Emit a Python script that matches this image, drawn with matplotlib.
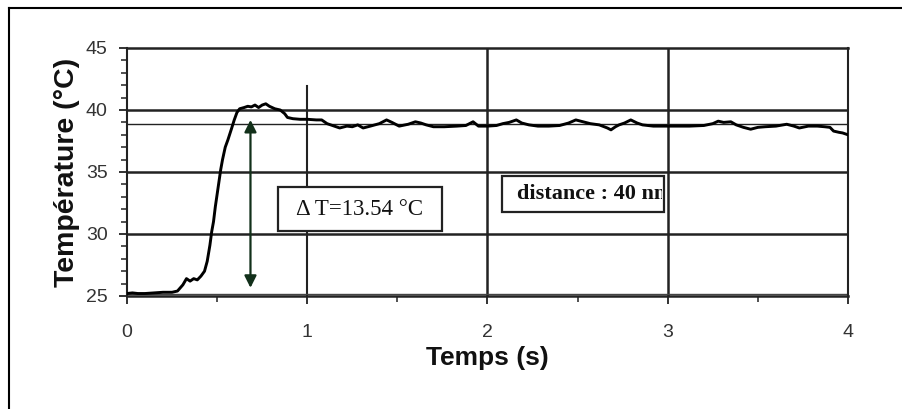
import matplotlib
matplotlib.use("Agg")
import matplotlib.pyplot as plt
from matplotlib.lines import Line2D
from matplotlib.patches import Rectangle
from matplotlib.ticker import MultipleLocator
from matplotlib.transforms import Bbox, TransformedBbox

# Temperature trace (time in s, temperature in °C)
time_s = [0.00, 0.03, 0.06, 0.10, 0.15, 0.20, 0.25, 0.28, 0.31, 0.33, 0.35, 0.37,
          0.39, 0.41, 0.43, 0.445, 0.46, 0.47, 0.48, 0.49, 0.50, 0.51, 0.52, 0.53,
          0.545, 0.56, 0.58, 0.595, 0.61, 0.625, 0.65, 0.67, 0.69, 0.71, 0.73, 0.75,
          0.77, 0.79, 0.82, 0.85, 0.875, 0.89, 0.92, 0.96, 1.00, 1.05, 1.08, 1.11,
          1.15, 1.18, 1.22, 1.25, 1.28, 1.31, 1.35, 1.40, 1.44, 1.47, 1.51, 1.56,
          1.60, 1.63, 1.66, 1.70, 1.76, 1.83, 1.88, 1.92, 1.95, 2.00, 2.05, 2.085,
          2.12, 2.16, 2.19, 2.23, 2.28, 2.34, 2.40, 2.45, 2.49, 2.53, 2.57, 2.62,
          2.665, 2.685, 2.71, 2.73, 2.76, 2.795, 2.83, 2.86, 2.92, 2.97, 3.05, 3.12,
          3.20, 3.25, 3.28, 3.31, 3.35, 3.38, 3.42, 3.46, 3.50, 3.54, 3.60, 3.66,
          3.70, 3.73, 3.78, 3.83, 3.87, 3.90, 3.92, 3.95, 3.97, 4.00]
temp_c = [25.2, 25.25, 25.2, 25.2, 25.25, 25.3, 25.3, 25.4, 25.9, 26.4, 26.2, 26.4,
          26.3, 26.6, 27.0, 27.8, 29.1, 30.2, 31.0, 32.2, 33.2, 34.2, 35.2, 36.0,
          37.0, 37.6, 38.5, 39.2, 39.8, 40.1, 40.2, 40.3, 40.25, 40.4, 40.2, 40.4,
          40.5, 40.3, 40.1, 40.0, 39.7, 39.4, 39.3, 39.25, 39.25, 39.2, 39.2, 38.9,
          38.7, 38.55, 38.7, 38.65, 38.8, 38.55, 38.7, 38.9, 39.2, 39.0, 38.7, 38.85,
          39.05, 38.95, 38.8, 38.65, 38.65, 38.7, 38.75, 39.05, 38.7, 38.7, 38.75, 38.9,
          39.0, 39.2, 38.95, 38.8, 38.7, 38.7, 38.75, 38.95, 39.2, 39.05, 38.9, 38.8,
          38.55, 38.4, 38.65, 38.8, 38.95, 39.2, 38.95, 38.8, 38.7, 38.7, 38.7, 38.7,
          38.75, 38.9, 39.1, 39.0, 39.05, 38.8, 38.6, 38.45, 38.6, 38.65, 38.7, 38.85,
          38.7, 38.55, 38.7, 38.7, 38.65, 38.6, 38.3, 38.2, 38.15, 38.0]

x_ticks = [0, 1, 2, 3, 4]
y_ticks = [25, 30, 35, 40, 45]
h_grid = [30, 35, 40]
steady_level = 38.9
delta_t = 13.54
delta_base = 25.66
delta_time = 0.685

fig = plt.figure(figsize=(9.03, 4.09), dpi=100)
ax = fig.add_axes([127 / 903, 1 - 296 / 409, 721 / 903, 248 / 409])

ax.set_xlim(0, 4)
ax.set_ylim(25, 45)

line_col = "#222222"
for yv in h_grid:
    ax.axhline(yv, color=line_col, lw=1.8, zorder=1)
ax.axhline(steady_level, color=line_col, lw=1.0, zorder=1)
ax.axvline(1, ymin=0, ymax=(41.9 - 25) / 20, color=line_col, lw=1.5, zorder=1)
ax.axvline(2, color=line_col, lw=1.8, zorder=1)
ax.axvline(3, color=line_col, lw=1.8, zorder=1)
ax.axhline(25.18, color="#444444", lw=1.0, zorder=1)

ax.plot(time_s, temp_c, color="black", lw=2.1, zorder=3)

# double-headed arrow spanning the temperature rise
ax.annotate("", xy=(delta_time, delta_base + delta_t), xytext=(delta_time, delta_base),
            arrowprops=dict(arrowstyle="<|-|>", color="#12301a", lw=1.6,
                            mutation_scale=18, shrinkA=0, shrinkB=0), zorder=4)

# ΔT label box
ax.add_patch(Rectangle((0.837, 30.24), 0.908, 3.55, facecolor="white",
                       edgecolor="#222222", lw=1.6, zorder=5))
ax.text(1.29, 32.0, "Δ T=13.54 °C", family="Liberation Serif", fontsize=16.5,
        ha="center", va="center", color="#111111", zorder=6)

# distance label box (text clipped by the frame)
dx0, dy0, dw, dh = 2.083, 31.77, 0.897, 2.91
ax.add_patch(Rectangle((dx0, dy0), dw, dh, facecolor="white",
                       edgecolor="#222222", lw=1.6, zorder=5))
dist_txt = ax.text(2.166, 33.2, "distance : 40 nm", family="Liberation Serif",
                   fontweight="bold", fontsize=16, ha="left", va="center",
                   color="#111111", zorder=6)
dist_txt.set_clip_box(TransformedBbox(Bbox.from_bounds(dx0, dy0, dw - 0.01, dh),
                                      ax.transData))
dist_txt.set_clip_on(True)

for side in ["top", "right", "left", "bottom"]:
    ax.spines[side].set_color(line_col)
ax.spines["top"].set_linewidth(1.8)
ax.spines["right"].set_linewidth(1.5)
ax.spines["left"].set_linewidth(1.5)
ax.spines["bottom"].set_linewidth(1.8)

ax.set_xticks(x_ticks)
ax.set_yticks(y_ticks)
ax.set_xticklabels([str(v) for v in x_ticks])
ax.set_yticklabels([str(v) for v in y_ticks])
ax.xaxis.set_minor_locator(MultipleLocator(0.5))
ax.yaxis.set_minor_locator(MultipleLocator(1))
ax.tick_params(axis="both", which="major", direction="out", length=6, width=1.3,
               color=line_col, labelsize=14, labelcolor="#333333")
ax.tick_params(axis="both", which="minor", direction="out", length=4, width=1.1,
               color=line_col)
ax.tick_params(axis="x", which="major", pad=14)
ax.tick_params(axis="y", which="major", pad=8)
for lab in ax.get_xticklabels() + ax.get_yticklabels():
    lab.set_family("Liberation Sans")

ax.set_xlabel("Temps (s)", family="Liberation Sans", fontweight="bold",
              fontsize=19, color="#111111", labelpad=4)
ax.set_ylabel("Température (°C)", family="Liberation Sans", fontweight="bold",
              fontsize=20.5, color="#111111", labelpad=4)

# outer frame: left and top edges
fig.add_artist(Line2D([8.5 / 903, 8.5 / 903], [0, 1 - 7.5 / 409],
                      transform=fig.transFigure, color="black", lw=1.5))
fig.add_artist(Line2D([8.5 / 903, 1], [1 - 7.5 / 409, 1 - 7.5 / 409],
                      transform=fig.transFigure, color="black", lw=1.5))

fig.savefig("out.png", dpi=100)
